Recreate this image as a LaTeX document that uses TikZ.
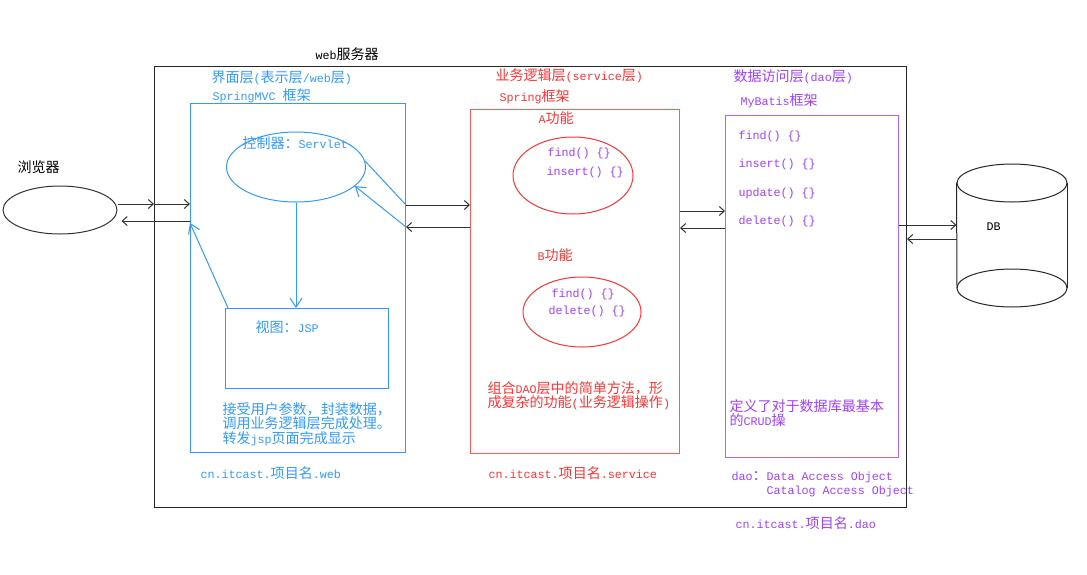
\documentclass[tikz,border=0pt]{standalone}
\usepackage{fontspec}
\setmainfont{Liberation Mono}
\newfontfamily\cjk{Noto Sans CJK SC}[Scale=1.2]
\usetikzlibrary{shapes.geometric,arrows.meta}
\newcommand\zhs[1]{{\cjk #1}}
\newcommand\myfnt{\fontsize{11.7}{15}\selectfont}
\definecolor{webblue}{RGB}{51,153,255}
\definecolor{svcred}{RGB}{255,51,51}
\definecolor{svcbox}{RGB}{255,90,90}
\definecolor{daopur}{RGB}{160,64,255}
\definecolor{daobox}{RGB}{175,100,255}
\begin{document}
\begin{tikzpicture}[x=1pt,y=-1pt,
  line width=1pt,
  every node/.style={font=\myfnt},
  txt/.style={inner sep=0pt, anchor=west, align=left},
  box/.style={draw, inner sep=0pt, anchor=north west},
  arr/.style={draw=black!80, -{Straight Barb[length=5pt,width=9pt]}},
  barr/.style={draw=webblue, -{Straight Barb[length=9pt,width=12pt]}},
]
\useasboundingbox (0,0) rectangle (1087,574);

% row helper coordinates
\coordinate (r1) at (0,204);
\coordinate (r2) at (0,221);
\coordinate (r3) at (0,205);
\coordinate (r4) at (0,227);
\coordinate (r5) at (0,211);
\coordinate (r6) at (0,228);
\coordinate (r7) at (0,225);
\coordinate (r8) at (0,239);
\coordinate (r9) at (0,223);

% containers
\node[box, draw=black!85, minimum width=752pt, minimum height=441pt] (server) at (154,66) {};
\node[txt] (serverlbl) at (315,54) {web\zhs{服务器}};

\node[ellipse, draw=black!80, minimum width=114pt, minimum height=48pt, inner sep=0pt] (browser) at (60,210) {};
\node[txt] (browserlbl) at (17,167) {\zhs{浏览器}};

% web layer
\node[box, draw=webblue, minimum width=215pt, minimum height=349pt] (web) at (190,103) {};
\node[txt, text=webblue] (weblbl1) at (211,78) {\zhs{界面层}(\zhs{表示层}/web\zhs{层})};
\node[txt, text=webblue] (weblbl2) at (212,96) {SpringMVC \zhs{框架}};
\node[ellipse, draw=webblue, minimum width=139pt, minimum height=70pt, inner sep=0pt] (ctrl) at (296,167) {};
\node[txt, text=webblue] (ctrllbl) at (242,143) {\zhs{控制器：}Servlet};
\node[box, draw=webblue, minimum width=163pt, minimum height=80pt] (view) at (225,308) {};
\node[txt, text=webblue] (viewlbl) at (255,327) {\zhs{视图：}JSP};
\node[txt, text=webblue, font=\fontsize{11.7}{14.5}\selectfont] (webdesc) at (222,424) {\zhs{接受用户参数，封装数据，}\\\zhs{调用业务逻辑层完成处理。}\\\zhs{转发}jsp\zhs{页面完成显示}};
\node[txt, text=webblue] (webpkg) at (200,473) {cn.itcast.\zhs{项目名}.web};

% service layer
\node[box, draw=svcbox, minimum width=209pt, minimum height=344pt] (svc) at (470,109) {};
\node[txt, text=svcred] (svclbl1) at (495,76) {\zhs{业务逻辑层}(service\zhs{层})};
\node[txt, text=svcred] (svclbl2) at (499,97) {Spring\zhs{框架}};
\node[txt, text=svcred] (alabel) at (538,118) {A\zhs{功能}};
\node[ellipse, draw=svcred, minimum width=120pt, minimum height=77pt, inner sep=0pt] (ella) at (573,175.5) {};
\node[txt, text=daopur] (afind) at (547,153) {find() \{\}};
\node[txt, text=daopur] (ains) at (546,172) {insert() \{\}};
\node[txt, text=svcred] (blabel) at (537,255) {B\zhs{功能}};
\node[ellipse, draw=svcred, minimum width=118pt, minimum height=70pt, inner sep=0pt] (ellb) at (582,312) {};
\node[txt, text=daopur] (bfind) at (551,294) {find() \{\}};
\node[txt, text=daopur] (bdel) at (548,311) {delete() \{\}};
\node[txt, text=svcred, font=\fontsize{11.7}{14.5}\selectfont] (svcdesc) at (487,396) {\zhs{组合}DAO\zhs{层中的简单方法，形}\\\zhs{成复杂的功能}(\zhs{业务逻辑操作})};
\node[txt, text=svcred] (svcpkg) at (488,473) {cn.itcast.\zhs{项目名}.service};

% dao layer
\node[box, draw=daobox, minimum width=173pt, minimum height=342pt] (dao) at (725,115) {};
\node[txt, text=daopur] (daolbl1) at (733,77) {\zhs{数据访问层}(dao\zhs{层})};
\node[txt, text=daopur] (daolbl2) at (740,101) {MyBatis\zhs{框架}};
\node[txt, text=daopur] (dfind) at (738,136) {find() \{\}};
\node[txt, text=daopur] (dins) at (738,164) {insert() \{\}};
\node[txt, text=daopur] (dupd) at (738,193) {update() \{\}};
\node[txt, text=daopur] (ddel) at (738,221) {delete() \{\}};
\node[txt, text=daopur, font=\fontsize{11.7}{13.5}\selectfont] (daodesc) at (729,413) {\zhs{定义了对于数据库最基本}\\\zhs{的}CRUD\zhs{操}};
\node[txt, text=daopur] (daoname1) at (731,477) {dao\zhs{：}Data Access Object};
\node[txt, text=daopur] (daoname2) at (766,491) {Catalog Access Object};
\node[txt, text=daopur] (daopkg) at (735,523) {cn.itcast.\zhs{项目名}.dao};

% database cylinder
\node[inner sep=0pt, minimum width=110pt, minimum height=143pt] (db) at (1012,235.5) {};
\draw[black!85] (db.north west) ++(0,19) -- (957,288);
\draw[black!85] (1067,183) -- (1067,288);
\draw[black!85] (1012,183) ellipse [x radius=55, y radius=19];
\draw[black!85] (1012,288) ellipse [x radius=55, y radius=19];
\node[txt] (dblbl) at (986,227) {DB};

% connectors: browser <-> web
\draw[arr] (browser.east |- r1) -- (server.west |- r1);
\draw[arr] (server.west |- r1) -- (web.west |- r1);
\draw[arr, shorten >=4pt] (web.west |- r2) -- (browser.east |- r2);

% web internal
\draw[barr] (ctrl.south) -- (ctrl.south |- view.north);
\draw[barr] ([xshift=3pt]view.north west) -- (web.west |- r9);
\draw[draw=webblue] (ctrl.5) -- (web.east |- r3);
\draw[barr] (web.east |- r4) -- (ctrl.342);

% web <-> service
\draw[arr] (web.east |- r3) -- (svc.west |- r3);
\draw[arr] (svc.west |- r4) -- (web.east |- r4);

% service <-> dao
\draw[arr] (svc.east |- r5) -- (dao.west |- r5);
\draw[arr] (dao.west |- r6) -- (svc.east |- r6);

% dao <-> db
\draw[arr] (dao.east |- r7) -- (db.west |- r7);
\draw[arr] (db.west |- r8) -- (server.east |- r8);
\end{tikzpicture}
\end{document}
